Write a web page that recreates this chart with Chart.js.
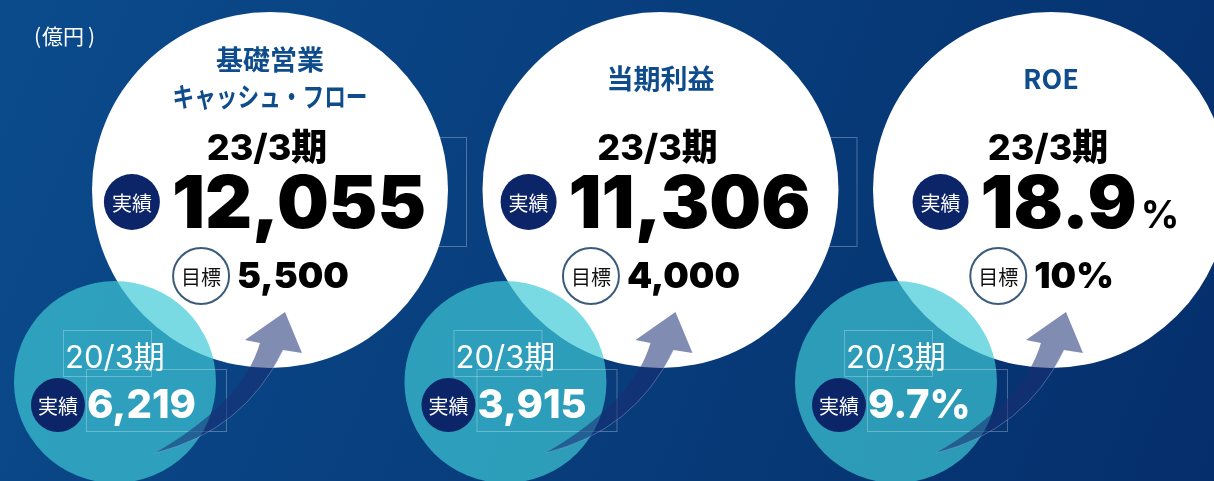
<!DOCTYPE html>
<html lang="ja">
<head>
<meta charset="utf-8">
<title>財務KPI 実績と目標</title>
<script src="https://cdn.jsdelivr.net/npm/chart.js@4.4.1/dist/chart.umd.min.js"></script>
<style>
html,body{margin:0;padding:0;background:#0a4686;overflow:hidden;}
#wrap{width:1214px;height:481px;position:relative;}
</style>
</head>
<body>
<div id="wrap"><canvas id="kpi"></canvas></div>
<script>
// データ
const metrics = ["基礎営業\nキャッシュ・フロー", "当期利益", "ROE"];
const periodNow = "23/3期";
const periodBase = "20/3期";
const actualNow = [12055, 11306, 18.9];
const actualBase = [6219, 3915, 9.7];
const targets = [5500, 4000, 10];
const isPercent = [false, false, true];
const unitLabel = "億円";
const badgeActual = "実績";
const badgeTarget = "目標";

const NUM = 'Inter, "Noto Sans CJK JP", sans-serif';
const JP = '"Noto Sans CJK JP", sans-serif';

function fmt(v, i){ return isPercent[i] ? String(v) : v.toLocaleString("en-US"); }
function fmtAll(v, i){ return isPercent[i] ? v + "%" : v.toLocaleString("en-US"); }

// 列の間隔（px）とスケール範囲
const STEP = 390.5;
const xMin = -270 / STEP, xMax = xMin + 1214 / STEP;
const yUnit = 192;
const yMax = 1 + 190 / yUnit, yMin = yMax - 481 / yUnit;

function badge(ctx, x, y, r, text, filled){
  ctx.beginPath();
  ctx.arc(x, y, r, 0, Math.PI*2);
  if (filled) { ctx.fillStyle = "#0c2468"; ctx.fill(); }
  else { ctx.fillStyle = "#fff"; ctx.fill(); ctx.lineWidth = 2; ctx.strokeStyle = "#3b5b7b"; ctx.stroke(); }
  ctx.fillStyle = filled ? "#fff" : "#111";
  ctx.font = `400 20px ${JP}`;
  ctx.textAlign = "center"; ctx.textBaseline = "middle";
  ctx.fillText(text, x, y + 1);
}

function arrow(ctx, sx, sy){
  const P = (dx, dy) => [sx + dx, sy + dy];
  const T = P(40, 71), NL = P(145, -39), HL = P(130, -42), TIP = P(170, -70),
        HR = P(187, -29), NR = P(168, -32), C1 = P(128, 20), C2 = P(129, 49);
  ctx.beginPath();
  ctx.moveTo(...T);
  ctx.quadraticCurveTo(...C1, ...NL);
  ctx.lineTo(...HL); ctx.lineTo(...TIP); ctx.lineTo(...HR); ctx.lineTo(...NR);
  ctx.quadraticCurveTo(...C2, ...T);
  ctx.closePath();
  ctx.fillStyle = "rgba(25,45,115,0.55)";
  ctx.fill();
  ctx.beginPath();
  ctx.moveTo(...NR); ctx.quadraticCurveTo(...C2, ...T);
  ctx.strokeStyle = "rgba(170,200,240,0.45)"; ctx.lineWidth = 0.8; ctx.stroke();
}

const deco = {
  id: "deco",
  beforeDraw(c){
    const {ctx, width, height} = c;
    const g = ctx.createLinearGradient(0, 0, width, height);
    g.addColorStop(0, "#0b4b8c");
    g.addColorStop(1, "#052f6c");
    ctx.save(); ctx.fillStyle = g; ctx.fillRect(0, 0, width, height); ctx.restore();
  },
  afterDatasetsDraw(c){
    const ctx = c.ctx;
    const big = c.getDatasetMeta(1).data, small = c.getDatasetMeta(0).data;
    ctx.save();
    // 単位ラベル
    ctx.fillStyle = "#fff"; ctx.font = `400 21px ${JP}`;
    ctx.textAlign = "left"; ctx.textBaseline = "middle";
    ctx.fillText("(", 34, 36);
    ctx.fillText(unitLabel, 42, 36);
    ctx.fillText(")", 88, 36);

    metrics.forEach((m, i) => {
      const bx = big[i].x, by = big[i].y, sx = small[i].x, sy = small[i].y;

      // うすい枠線
      ctx.strokeStyle = "rgba(255,255,255,0.28)"; ctx.lineWidth = 1;
      ctx.strokeRect(bx - 95.5, by - 52.5, 292, 109);
      ctx.strokeRect(sx - 51.5, sy - 51.5, 88, 46);
      ctx.strokeRect(sx - 28.5, sy - 12.5, 140, 62);

      arrow(ctx, sx, sy);

      // タイトル
      ctx.fillStyle = "#0f4c8c"; ctx.font = `700 27px ${JP}`;
      ctx.textAlign = "center"; ctx.textBaseline = "middle";
      const lines = m.split("\n");
      if (lines.length === 2) {
        ctx.fillText(lines[0], bx, by - 130);
        ctx.fillText(lines[1], bx, by - 93, 195);
      } else {
        ctx.fillText(lines[0], bx, by - 111);
      }

      // 23/3期
      ctx.fillStyle = "#000"; ctx.font = `800 36px ${NUM}`;
      ctx.textBaseline = "alphabetic";
      ctx.fillText(periodNow, bx - 3, by - 30);

      // 実績（大）
      ctx.font = `900 73px ${NUM}`;
      const main = fmt(actualNow[i], i);
      const mw = ctx.measureText(main).width;
      let sw = 0;
      if (isPercent[i]) { ctx.font = `700 38px ${NUM}`; sw = ctx.measureText("%").width + 4; }
      const gw = 56 + 12 + mw + sw;
      const left = bx - 5 - gw / 2;
      badge(ctx, left + 28, by + 12, 28, badgeActual, true);
      ctx.fillStyle = "#000"; ctx.textAlign = "left"; ctx.textBaseline = "alphabetic";
      ctx.font = `900 73px ${NUM}`;
      ctx.fillText(main, left + 68, by + 38);
      if (isPercent[i]) { ctx.font = `700 38px ${NUM}`; ctx.fillText("%", left + 68 + mw + 4, by + 38); }

      // 目標
      ctx.font = `900 36px ${NUM}`;
      const tt = fmtAll(targets[i], i);
      const tw = ctx.measureText(tt).width;
      const tl = bx - 9 - (56 + 8 + tw) / 2;
      badge(ctx, tl + 28, by + 86, 28, badgeTarget, false);
      ctx.fillStyle = "#000"; ctx.textAlign = "left"; ctx.textBaseline = "alphabetic";
      ctx.font = `900 36px ${NUM}`;
      ctx.fillText(tt, tl + 64, by + 98);

      // 20/3期
      ctx.fillStyle = "#fff"; ctx.textAlign = "center";
      ctx.font = `400 31px ${NUM}`;
      ctx.fillText(periodBase, sx, sy - 14);
      badge(ctx, sx - 57, sy + 23, 27, badgeActual, true);
      ctx.fillStyle = "#fff"; ctx.textAlign = "left"; ctx.textBaseline = "alphabetic";
      ctx.font = `800 40px ${NUM}`;
      ctx.fillText(fmtAll(actualBase[i], i), sx - 28, sy + 36);
    });
    ctx.restore();
  }
};

new Chart(document.getElementById("kpi"), {
  type: "bubble",
  data: {
    datasets: [
      { label: periodBase, data: actualBase.map((v, i) => ({x: i - 0.397, y: 0})),
        radius: 101, backgroundColor: "rgba(62,202,214,0.69)", borderWidth: 0, order: 1, clip: false },
      { label: periodNow, data: actualNow.map((v, i) => ({x: i, y: 1})),
        radius: 178, backgroundColor: "#ffffff", borderWidth: 0, order: 2, clip: false }
    ]
  },
  options: {
    responsive: true, maintainAspectRatio: false, animation: false, events: [],
    layout: {padding: 0, autoPadding: false},
    plugins: {legend: {display: false}, tooltip: {enabled: false}},
    scales: {
      x: {type: "linear", display: false, min: xMin, max: xMax, bounds: "data"},
      y: {type: "linear", display: false, min: yMin, max: yMax, bounds: "data"}
    }
  },
  plugins: [deco]
});
</script>
</body>
</html>
